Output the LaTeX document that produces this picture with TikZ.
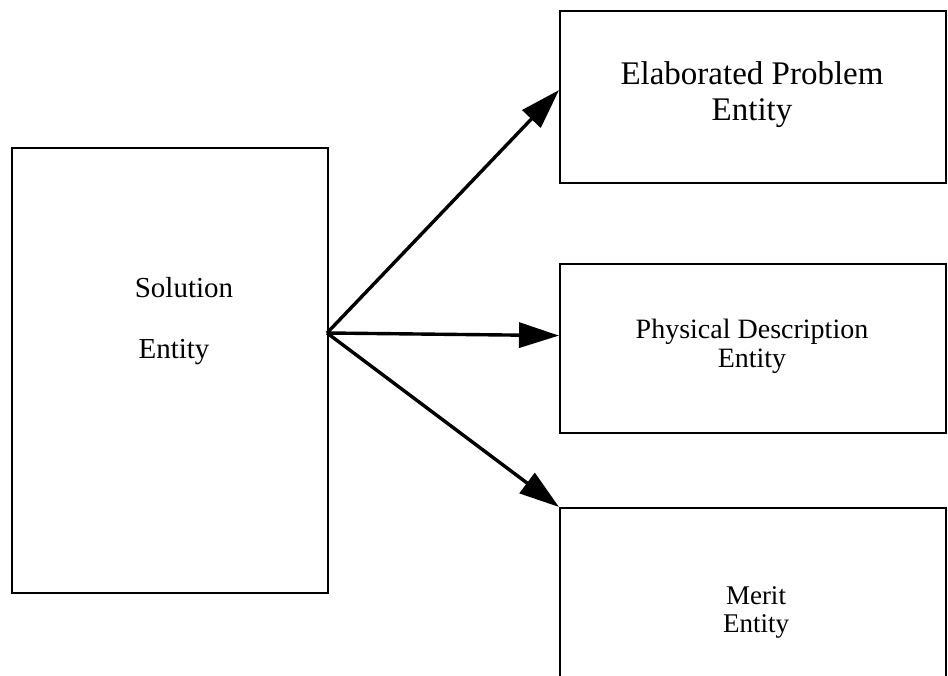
\documentclass[tikz,border=0pt]{standalone}
\usepackage{fontspec}
\setmainfont{Liberation Serif}
\usetikzlibrary{arrows.meta}
\begin{document}
\begin{tikzpicture}[x=1pt,y=1pt,
  entitybox/.style={draw=black,line width=2.2pt,rectangle,inner sep=0pt,anchor=north west},
  label/.style={inner sep=0pt,align=center,font=#1},
  link/.style={line width=3.4pt,-{Triangle[length=40pt,width=25pt]}}]
  \useasboundingbox[fill=white] (0,0) rectangle (948,676);
  % boxes (positions of the north-west corners)
  \node[entitybox,minimum width=316pt,minimum height=445pt] (sol) at (11,529) {};
  \node[entitybox,minimum width=386pt,minimum height=172pt] (elab) at (559,666) {};
  \node[entitybox,minimum width=386pt,minimum height=169pt] (phys) at (559,413) {};
  \node[entitybox,minimum width=386pt,minimum height=180pt] (merit) at (559,169) {};
  % labels
  \node[label=\fontsize{29}{34}\selectfont] (soltxt1) at (184,388) {Solution};
  \node[label=\fontsize{29}{34}\selectfont] (soltxt2) at (174,324) {Entity};
  \node[label=\fontsize{33}{36}\selectfont,anchor=center] (elabtxt) at (752,581) {Elaborated Problem\\Entity};
  \node[label=\fontsize{28}{29}\selectfont,anchor=center] (phystxt) at (752,330) {Physical Description\\Entity};
  \node[label=\fontsize{27}{28}\selectfont,anchor=center] (merittxt) at (756,64) {Merit\\Entity};
  % connectors from the hub on the right side of the solution box
  \coordinate (hub) at (327,343);
  \draw[link] (hub) -- ([yshift=7pt]elab.west);
  \draw[link] (hub) -- ([yshift=13pt]phys.west);
  \draw[link] (hub) -- (merit.north west);
\end{tikzpicture}
\end{document}
